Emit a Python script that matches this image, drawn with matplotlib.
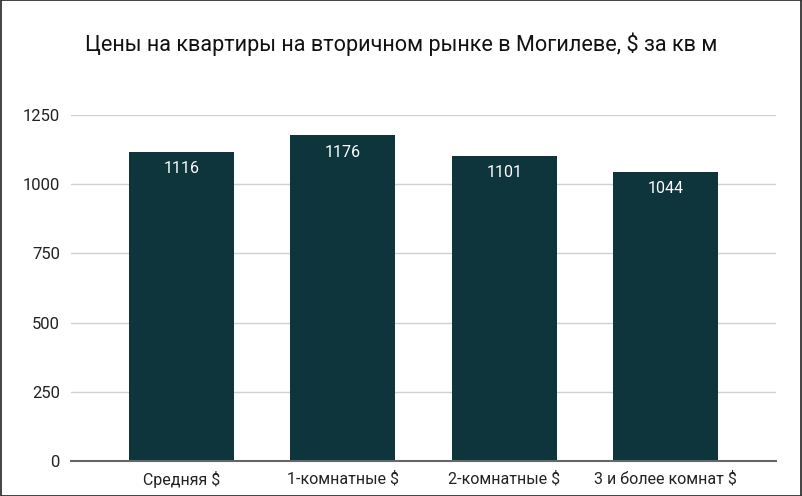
import matplotlib
matplotlib.use("Agg")
import matplotlib.pyplot as plt
from matplotlib.patches import Rectangle

categories = ["Средняя $", "1-комнатные $", "2-комнатные $", "3 и более комнат $"]
values = [1116, 1176, 1101, 1044]
yticks = [0, 250, 500, 750, 1000, 1250]
title = "Цены на квартиры на вторичном рынке в Могилеве, $ за кв м"

plt.rcParams['font.family'] = ['Roboto', 'DejaVu Sans']
bar_color = "#0e343c"

fig = plt.figure(figsize=(8.02, 4.96), dpi=100)
ax = fig.add_axes([71/802, 35/496, 705/802, 346/496])

x = list(range(len(categories)))
bars = ax.bar(x, values, width=0.65, color=bar_color, zorder=3)
for b, v in zip(bars, values):
    ax.annotate(str(v), (b.get_x() + b.get_width()/2, v), xytext=(0, -12),
                textcoords="offset points", ha="center", va="center",
                color="white", fontsize=11.5, zorder=4)

ax.set_xlim(-0.684, 3.684)
ax.set_ylim(0, 1250)
ax.set_yticks(yticks)
ax.set_yticklabels([str(t) for t in yticks], fontsize=12)
ax.set_xticks(x)
ax.set_xticklabels(categories, fontsize=11.5)
ax.tick_params(axis='both', length=0, colors="#222222")
ax.tick_params(axis='x', pad=7)
ax.tick_params(axis='y', pad=8)
ax.grid(axis='y', color="#d0d0d0", linewidth=1, zorder=0)
for s in ["top", "right", "left"]:
    ax.spines[s].set_visible(False)
ax.spines["bottom"].set_color("#666666")
ax.spines["bottom"].set_linewidth(1.5)
ax.spines["bottom"].set_zorder(5)

fig.text(85/802, 1 - 44/496, title, fontsize=15.6, ha="left", va="center", color="#111111")
fig.patches.append(Rectangle((0.001, 0.001), 0.998, 0.998, transform=fig.transFigure,
                             fill=False, edgecolor="#222222", linewidth=1.2))

fig.savefig("out.png", dpi=100)
